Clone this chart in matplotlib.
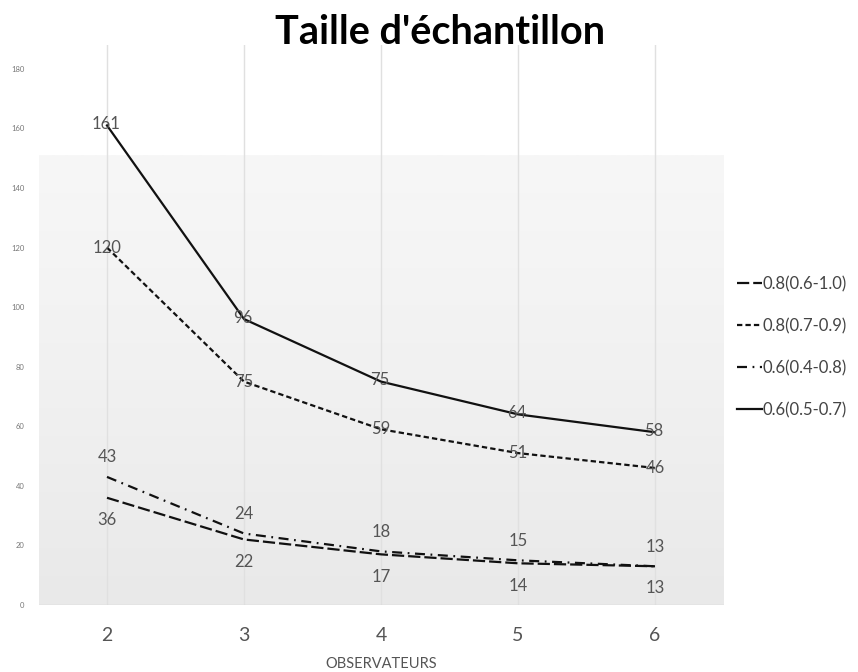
import matplotlib
matplotlib.use("Agg")
import matplotlib.pyplot as plt
import numpy as np
from matplotlib.colors import LinearSegmentedColormap

plt.rcParams['font.family'] = ['Lato', 'DejaVu Sans']

observers = [2, 3, 4, 5, 6]
yticks = [0, 20, 40, 60, 80, 100, 120, 140, 160, 180]

s_08_06_10 = [36, 22, 17, 14, 13]     # long dash
s_08_07_09 = [120, 75, 59, 51, 46]    # short dash
s_06_04_08 = [43, 24, 18, 15, 13]     # dash-dot
s_06_05_07 = [161, 96, 75, 64, 58]    # solid

labels = ["0.8(0.6-1.0)", "0.8(0.7-0.9)", "0.6(0.4-0.8)", "0.6(0.5-0.7)"]

fig = plt.figure(figsize=(8.58, 6.72), dpi=100)
ax = fig.add_axes([38.5/858, (672-605)/672, 685/858, (605-45)/672])
ax.set_xlim(1.5, 6.5)
ax.set_ylim(0, 188)

# background gradient
cmap = LinearSegmentedColormap.from_list("bg", ["#e9e9e9", "#f1f1f1", "#f7f7f7"])
grad = np.linspace(0, 1, 256).reshape(-1, 1)
ax.imshow(grad, extent=[1.5, 6.5, 0, 151], origin="lower", cmap=cmap,
          aspect="auto", zorder=0)

for x in observers:
    ax.axvline(x, color="#e0e0e0", lw=1.0, zorder=1)
ax.axhline(0, color="#d4d4d4", lw=1.0, zorder=1)

lw = 1.6
lc = "#111111"
l1, = ax.plot(observers, s_08_06_10, color=lc, lw=lw, dashes=(5.5, 1.8), zorder=3)
l2, = ax.plot(observers, s_08_07_09, color=lc, lw=lw, dashes=(2.4, 1.4), zorder=3)
l3, = ax.plot(observers, s_06_04_08, color=lc, lw=lw, dashes=(4.5, 2.5, 0.8, 2.5), zorder=3)
l4, = ax.plot(observers, s_06_05_07, color=lc, lw=lw, zorder=3)

tc = "#555555"
fs = 12
for x, v in zip(observers, s_08_06_10):
    ax.annotate(str(v), (x, v), xytext=(0, -16), textcoords="offset points",
                ha="center", va="center", fontsize=fs, color=tc, zorder=4)
for x, v in zip(observers, s_06_04_08):
    ax.annotate(str(v), (x, v), xytext=(0, 14), textcoords="offset points",
                ha="center", va="center", fontsize=fs, color=tc, zorder=4)
for x, v in zip(observers, s_08_07_09):
    ax.annotate(str(v), (x, v), xytext=(0, 0), textcoords="offset points",
                ha="center", va="center", fontsize=fs, color=tc, zorder=4)
for x, v in zip(observers, s_06_05_07):
    ax.annotate(str(v), (x, v), xytext=(-1, 1), textcoords="offset points",
                ha="center", va="center", fontsize=fs, color=tc, zorder=4)

ax.set_xticks(observers)
ax.set_xticklabels([str(o) for o in observers], fontsize=14, color=tc)
ax.set_yticks(yticks)
ax.set_yticklabels([str(t) for t in yticks], fontsize=5.5, color="#777777")
ax.tick_params(axis="both", length=0)
ax.tick_params(axis="x", pad=16)
ax.tick_params(axis="y", pad=10)
for sp in ax.spines.values():
    sp.set_visible(False)
ax.set_xlabel("OBSERVATEURS", fontsize=10.5, color=tc, labelpad=9)

fig.text(440/858, 1 - 33/672, "Taille d'échantillon", ha="center", va="center",
         fontsize=28.5, fontweight="bold", color="#000000")

leg = fig.legend([l1, l2, l3, l4], labels, loc="center left",
                 bbox_to_anchor=(722/858, 1-347/672), frameon=False,
                 fontsize=12, labelcolor="#444444", handlelength=1.5,
                 handletextpad=0.05, labelspacing=1.55)

fig.savefig("out.png", dpi=100, facecolor="white")
